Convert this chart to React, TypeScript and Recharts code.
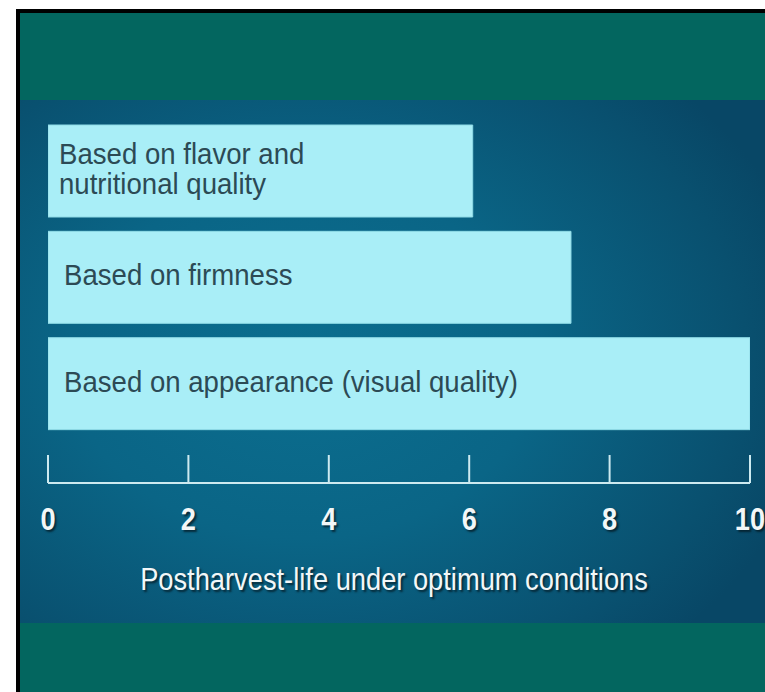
import React from 'react';
import { BarChart, Bar, XAxis, YAxis, LabelList } from 'recharts';

const categories = ['Based on flavor and\nnutritional quality', 'Based on firmness', 'Based on appearance (visual quality)'];
const values = [6.05, 7.45, 10];
const xTicks = [0, 2, 4, 6, 8, 10];
const axisTitle = 'Postharvest-life under optimum conditions';

const data = categories.map((name, i) => ({ name, value: values[i] }));

const FONT = '"Liberation Sans", Arial, Helvetica, sans-serif';
const SHADOW = '2px 2px 2px rgba(4, 24, 34, 0.75)';

const BarLabel = (props: any) => {
  const { x, y, height, value, index } = props;
  const lines = String(value).split('\n');
  const lineH = 30;
  const cy = Number(y) + Number(height) / 2;
  const x0 = Number(x) + (index === 0 ? 11 : 16);
  return (
    <g>
      {lines.map((ln, i) => {
        const by = cy + (i - (lines.length - 1) / 2) * lineH + 8;
        return (
          <text
            key={i}
            transform={`translate(${x0},${by}) scale(0.92,1)`}
            fontSize={30}
            fill="#2c4a55"
            fontFamily={FONT}
          >
            {ln}
          </text>
        );
      })}
    </g>
  );
};

const Tick = (props: any) => {
  const { x, y, payload } = props;
  return (
    <g>
      <line x1={x} y1={y} x2={x} y2={y - 28} stroke="#cdeaf0" strokeWidth={2} />
      <text
        transform={`translate(${x},${y + 47}) scale(0.85,1)`}
        textAnchor="middle"
        fontSize={32}
        fontWeight="bold"
        fill="#f2f7f8"
        fontFamily={FONT}
        style={{ textShadow: SHADOW }}
      >
        {payload.value}
      </text>
    </g>
  );
};

const TitleLabel = (props: any) => {
  const vb = props.viewBox || { x: 48, y: 483, width: 702 };
  const cx = vb.x + vb.width / 2 - 5;
  const by = vb.y + 107;
  return (
    <text
      transform={`translate(${cx},${by}) scale(0.88,1)`}
      textAnchor="middle"
      fontSize={31}
      fill="#f2f7f8"
      fontFamily={FONT}
      style={{ textShadow: SHADOW }}
    >
      {axisTitle}
    </text>
  );
};

export default function App() {
  return (
    <div style={{ position: 'absolute', left: 0, top: 0, width: 765, height: 692, background: '#ffffff', overflow: 'hidden' }}>
      <div style={{ position: 'absolute', left: 16, top: 9, width: 800, height: 720, background: '#000000' }} />
      <div style={{ position: 'absolute', left: 20, top: 13, width: 800, height: 87, background: '#03665f' }} />
      <div
        style={{
          position: 'absolute',
          left: 20,
          top: 100,
          width: 745,
          height: 523,
          background: 'radial-gradient(ellipse 70% 75% at 38% 50%, #0b6e8f 0%, #0a6586 45%, #09506f 85%, #084766 100%)',
        }}
      />
      <div style={{ position: 'absolute', left: 20, top: 623, width: 800, height: 80, background: '#03665f' }} />
      <div style={{ position: 'absolute', left: 0, top: 0 }}>
        <BarChart
          width={765}
          height={692}
          data={data}
          layout="vertical"
          margin={{ top: 118, right: 15, bottom: 0, left: 48 }}
        >
          <XAxis
            type="number"
            domain={[0, 10]}
            ticks={xTicks}
            height={209}
            tickSize={0}
            tickMargin={0}
            tickLine={false}
            axisLine={{ stroke: '#cdeaf0', strokeWidth: 2 }}
            tick={<Tick />}
            interval={0}
            allowDataOverflow
            label={{ content: <TitleLabel /> }}
          />
          <YAxis type="category" dataKey="name" hide padding={{ top: 0, bottom: 46 }} />
          <Bar dataKey="value" fill="#a9eef7" stroke="#8fdbe6" strokeWidth={1} barSize={92} isAnimationActive={false}>
            <LabelList dataKey="name" content={<BarLabel />} />
          </Bar>
        </BarChart>
      </div>
    </div>
  );
}
